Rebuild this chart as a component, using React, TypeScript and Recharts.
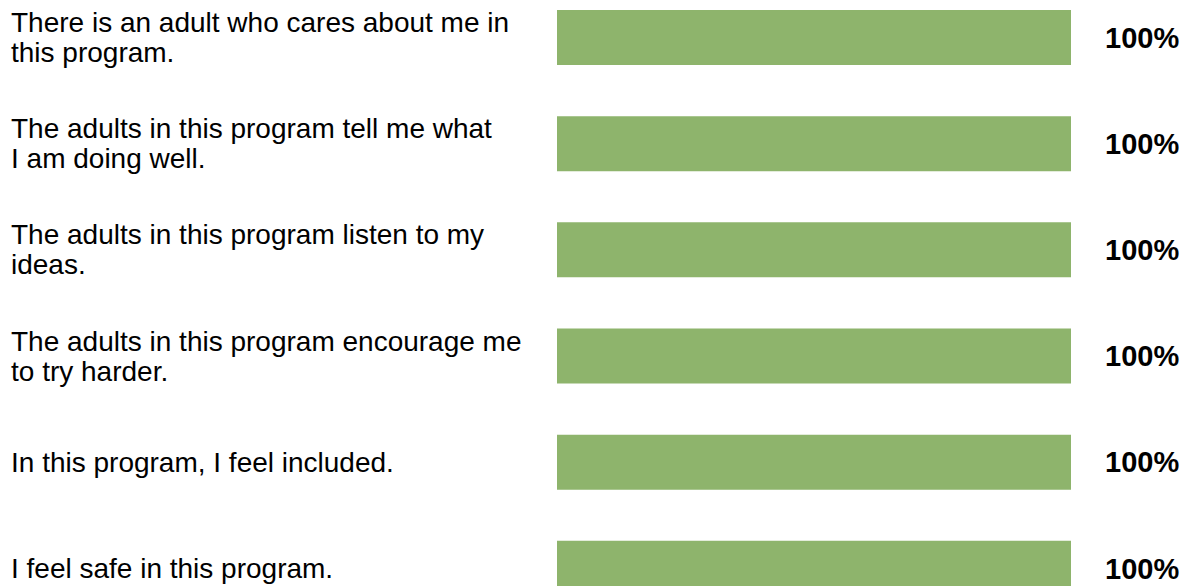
import { Bar, BarChart, LabelList, XAxis, YAxis } from "recharts";

const statements = [
  "There is an adult who cares about me in\nthis program.",
  "The adults in this program tell me what\nI am doing well.",
  "The adults in this program listen to my\nideas.",
  "The adults in this program encourage me\nto try harder.",
  "In this program, I feel included.",
  "I feel safe in this program.",
];

const percents = [100, 100, 100, 100, 100, 100];

const data = statements.map((label, i) => ({ label, value: percents[i] }));

const FONT = "'Liberation Sans', Arial, sans-serif";

function StatementTick(props: any) {
  const { y, payload } = props;
  const lines: string[] = String(payload.value).split("\n");
  const lineHeight = 30;
  const first = -((lines.length - 1) * lineHeight) / 2 + 10;
  return (
    <text x={11} y={y} fontSize={28} fontFamily={FONT} fill="#000" textAnchor="start">
      {lines.map((line, i) => (
        <tspan key={i} x={11} y={y + first + i * lineHeight}>
          {line}
        </tspan>
      ))}
    </text>
  );
}

export default function App() {
  return (
    <div
      style={{
        position: "absolute",
        left: 0,
        top: 0,
        width: 1186,
        height: 586,
        overflow: "hidden",
        background: "#fff",
      }}
    >
      <div style={{ position: "absolute", left: 0, top: -16 }}>
        <BarChart
          width={1186}
          height={640}
          data={data}
          layout="vertical"
          margin={{ top: 0, right: 115, bottom: 3, left: 0 }}
        >
          <XAxis type="number" domain={[0, 100]} hide />
          <YAxis
            type="category"
            dataKey="label"
            width={557}
            axisLine={false}
            tickLine={false}
            tick={StatementTick}
            interval={0}
          />
          <Bar dataKey="value" fill="#8EB46C" barSize={55} isAnimationActive={false}>
            <LabelList
              dataKey="value"
              position="right"
              offset={34}
              formatter={(v: any) => `${v}%`}
              fill="#000"
              fontSize={29}
              fontWeight="bold"
              fontFamily={FONT}
            />
          </Bar>
        </BarChart>
      </div>
    </div>
  );
}
